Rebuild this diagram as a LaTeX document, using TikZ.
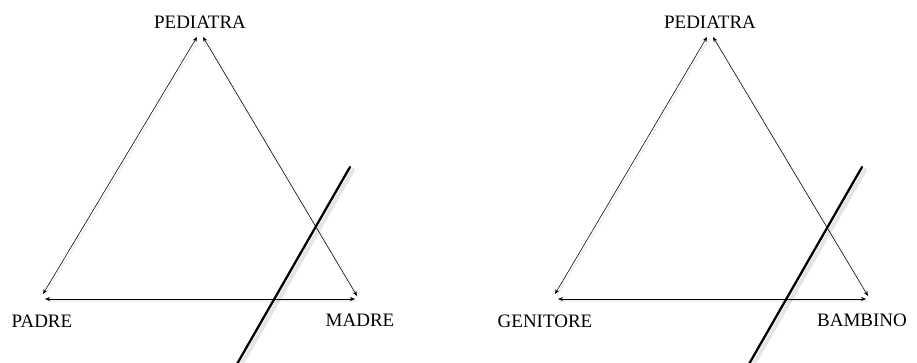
\documentclass[tikz,border=0pt]{standalone}
\usepackage{fontspec}
\setmainfont{Liberation Serif}
\usetikzlibrary{arrows.meta}
\tikzset{
  lbl/.style={inner sep=0pt, font=\fontsize{19}{19}\selectfont, text=black},
  rel/.style={line width=0.55pt, {Stealth[length=5pt,width=4pt]}-{Stealth[length=5pt,width=4pt]}},
  cut/.style={line width=2.3pt, line cap=round},
  cutshadow/.style={line width=4pt, line cap=round, black, opacity=0.10},
  relshadow/.style={line width=1.5pt, black, opacity=0.06},
}
\begin{document}
\begin{tikzpicture}[x=1pt,y=-1pt]
\useasboundingbox (0,0) rectangle (917,362);
\fill[white] (0,0) rectangle (917,362);
% ---------- left triangle ----------
\node[lbl] (pedL) at (200,22) {PEDIATRA};
\node[lbl] (padre) at (42,321) {PADRE};
\node[lbl] (madre) at (360,320) {MADRE};
\coordinate (aL1) at (197,37);
\coordinate (aL2) at (203,37);
\coordinate (bL1) at (43,294);
\coordinate (bL2) at (45,299);
\coordinate (cL1) at (357,296);
\coordinate (cL2) at (355,299);
\coordinate (kL1) at (350,167);
\coordinate (kL2) at (237,364);
\draw[relshadow] ([shift={(2,2)}]aL1) -- ([shift={(2,2)}]bL1);
\draw[relshadow] ([shift={(2,2)}]aL2) -- ([shift={(2,2)}]cL1);
\draw[relshadow] ([shift={(2,2)}]bL2) -- ([shift={(2,2)}]cL2);
\draw[rel] (aL1) -- (bL1);
\draw[rel] (aL2) -- (cL1);
\draw[rel] (bL2) -- (cL2);
\draw[cutshadow] ([shift={(3,3)}]kL1) -- ([shift={(3,3)}]kL2);
\draw[cut] (kL1) -- (kL2);
% ---------- right triangle ----------
\node[lbl] (pedR) at (710,22) {PEDIATRA};
\node[lbl] (genitore) at (545,321) {GENITORE};
\node[lbl] (bambino) at (862,320) {BAMBINO};
\coordinate (aR1) at (707,37);
\coordinate (aR2) at (713,37);
\coordinate (bR1) at (555,294);
\coordinate (bR2) at (558,299);
\coordinate (cR1) at (868,296);
\coordinate (cR2) at (866,299);
\coordinate (kR1) at (862,167);
\coordinate (kR2) at (749,364);
\draw[relshadow] ([shift={(2,2)}]aR1) -- ([shift={(2,2)}]bR1);
\draw[relshadow] ([shift={(2,2)}]aR2) -- ([shift={(2,2)}]cR1);
\draw[relshadow] ([shift={(2,2)}]bR2) -- ([shift={(2,2)}]cR2);
\draw[rel] (aR1) -- (bR1);
\draw[rel] (aR2) -- (cR1);
\draw[rel] (bR2) -- (cR2);
\draw[cutshadow] ([shift={(3,3)}]kR1) -- ([shift={(3,3)}]kR2);
\draw[cut] (kR1) -- (kR2);
\end{tikzpicture}
\end{document}
